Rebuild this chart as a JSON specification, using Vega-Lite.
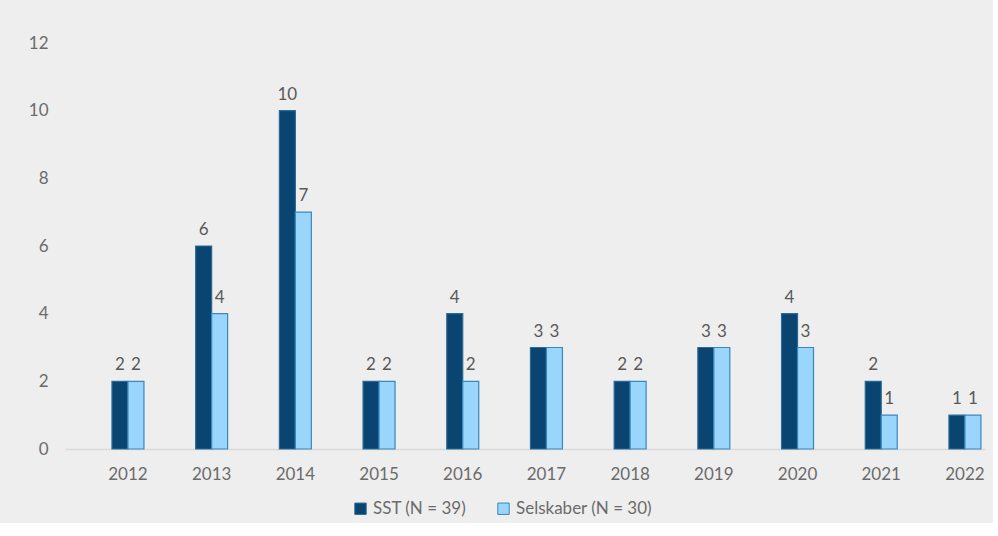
{
  "$schema": "https://vega.github.io/schema/vega-lite/v6.json",
  "width": 920,
  "height": 406,
  "autosize": {"type": "none"},
  "padding": {"left": 65, "top": 43, "right": 8, "bottom": 74},
  "background": "#eeeeee",
  "config": {
    "font": "Lato",
    "view": {"stroke": null},
    "axis": {"labelFont": "Lato", "labelFontSize": 17, "labelColor": "#6b6b6b", "titleFontSize": 0}
  },
  "data": {
    "values": [
      {"year": "2012", "series": "SST (N = 39)", "value": 2},
      {"year": "2012", "series": "Selskaber (N = 30)", "value": 2},
      {"year": "2013", "series": "SST (N = 39)", "value": 6},
      {"year": "2013", "series": "Selskaber (N = 30)", "value": 4},
      {"year": "2014", "series": "SST (N = 39)", "value": 10},
      {"year": "2014", "series": "Selskaber (N = 30)", "value": 7},
      {"year": "2015", "series": "SST (N = 39)", "value": 2},
      {"year": "2015", "series": "Selskaber (N = 30)", "value": 2},
      {"year": "2016", "series": "SST (N = 39)", "value": 4},
      {"year": "2016", "series": "Selskaber (N = 30)", "value": 2},
      {"year": "2017", "series": "SST (N = 39)", "value": 3},
      {"year": "2017", "series": "Selskaber (N = 30)", "value": 3},
      {"year": "2018", "series": "SST (N = 39)", "value": 2},
      {"year": "2018", "series": "Selskaber (N = 30)", "value": 2},
      {"year": "2019", "series": "SST (N = 39)", "value": 3},
      {"year": "2019", "series": "Selskaber (N = 30)", "value": 3},
      {"year": "2020", "series": "SST (N = 39)", "value": 4},
      {"year": "2020", "series": "Selskaber (N = 30)", "value": 3},
      {"year": "2021", "series": "SST (N = 39)", "value": 2},
      {"year": "2021", "series": "Selskaber (N = 30)", "value": 1},
      {"year": "2022", "series": "SST (N = 39)", "value": 1},
      {"year": "2022", "series": "Selskaber (N = 30)", "value": 1}
    ]
  },
  "encoding": {
    "x": {
      "field": "year",
      "type": "ordinal",
      "title": null,
      "scale": {"paddingInner": 0.618, "paddingOuter": 0.305, "align": 0.92},
      "axis": {"labelAngle": 0, "ticks": false, "domainColor": "#d9d9d9", "domainWidth": 1.5, "labelPadding": 17}
    },
    "xOffset": {"field": "series", "type": "nominal", "sort": ["SST (N = 39)", "Selskaber (N = 30)"]},
    "y": {
      "field": "value",
      "type": "quantitative",
      "title": null,
      "scale": {"domain": [0, 12]},
      "axis": {"values": [0, 2, 4, 6, 8, 10, 12], "grid": false, "domain": false, "ticks": false, "labelPadding": 17}
    }
  },
  "layer": [
    {
      "mark": {"type": "bar", "strokeWidth": 1.2},
      "encoding": {
        "color": {
          "field": "series",
          "type": "nominal",
          "sort": ["SST (N = 39)", "Selskaber (N = 30)"],
          "scale": {"domain": ["SST (N = 39)", "Selskaber (N = 30)"], "range": ["#0a4471", "#9ad5fb"]},
          "legend": {
            "orient": "none",
            "direction": "horizontal",
            "legendX": 287,
            "legendY": 457,
            "title": null,
            "symbolType": "square",
            "symbolSize": 130,
            "symbolStrokeWidth": 1,
            "labelFontSize": 17,
            "labelColor": "#6b6b6b",
            "labelFont": "Lato",
            "columnPadding": 28,
            "labelOffset": 4
          }
        },
        "stroke": {
          "field": "series",
          "type": "nominal",
          "sort": ["SST (N = 39)", "Selskaber (N = 30)"],
          "scale": {"domain": ["SST (N = 39)", "Selskaber (N = 30)"], "range": ["#2a6a98", "#3a86bd"]}
        }
      }
    },
    {
      "mark": {"type": "text", "baseline": "bottom", "dy": -7, "fontSize": 17, "color": "#595959", "font": "Lato"},
      "encoding": {"text": {"field": "value", "type": "quantitative"}}
    }
  ]
}
